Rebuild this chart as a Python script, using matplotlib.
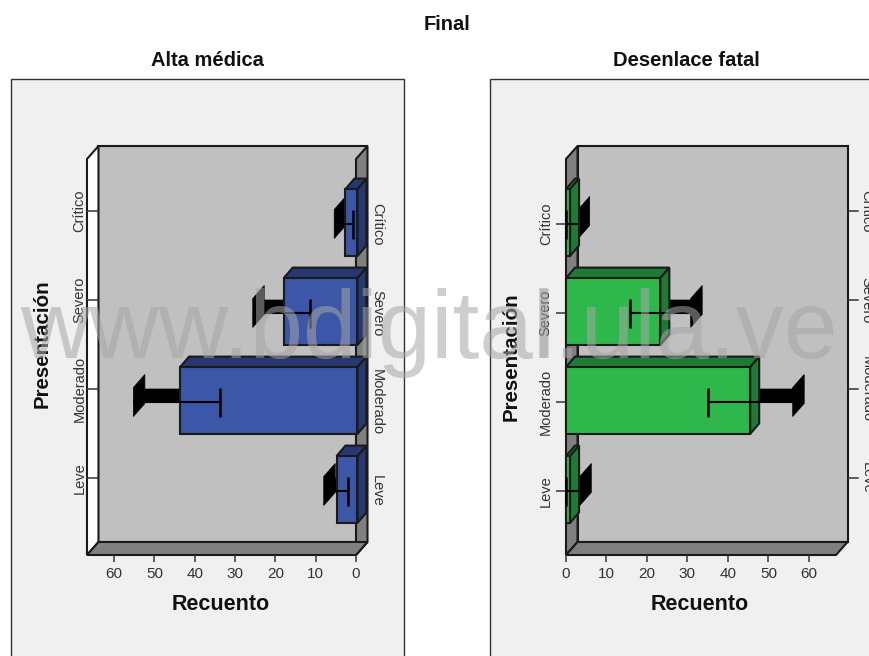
import matplotlib
matplotlib.use("Agg")
import matplotlib.pyplot as plt
from matplotlib.patches import Polygon, Rectangle

plt.rcParams['font.family'] = ['Liberation Sans', 'DejaVu Sans']

W, H = 869, 656
categories = ["Leve", "Moderado", "Severo", "Crítico"]
x_ticks = [0, 10, 20, 30, 40, 50, 60]

alta_values = [5.2, 44, 18.3, 3]
alta_err_low = [2, 33.7, 11.4, 0.8]
alta_err_high = [8, 55.2, 25.6, 5.4]

fatal_values = [1, 45.5, 23.3, 1]
fatal_err_low = [0, 35, 15.9, 0]
fatal_err_high = [3.4, 56, 30.8, 3]

PX_X = 4.04   # px per count
PX_Y = 89.0   # px per category
DX, DY = 11.5 / PX_X, 13 / PX_Y
BDX, BDY = 9.0 / PX_X, 10.5 / PX_Y
INX, INY = 1.5 / PX_X, 1.5 / PX_Y
BAR_H = 33.4 / PX_Y
CAP = 14.5 / PX_Y
XMAX = 66.7
YLO, YHI = -64 / PX_Y, 3 + 65 / PX_Y

EDGE = '#1a1a1a'
TXT = '#333333'
WALL = '#808080'
BACK = '#c0c0c0'

fig = plt.figure(figsize=(W / 100, H / 100), dpi=100, facecolor='white')


def px_axes(l, t, r, b, z):
    ax = fig.add_axes([l / W, 1 - b / H, (r - l) / W, (b - t) / H], zorder=z)
    return ax


bg = px_axes(0, 0, W, H, 0)
bg.set_xlim(0, W)
bg.set_ylim(H, 0)
bg.axis('off')
bg.add_patch(Rectangle((11, 79), 393, 600, fc='#f0f0f0', ec='#333333', lw=1))
bg.add_patch(Rectangle((490, 79), 400, 600, fc='#f0f0f0', ec='#333333', lw=1))
bg.text(447, 24, "Final", ha='center', va='center', fontsize=14.5, fontweight='bold', color='#111111')
bg.text(207, 61, "Alta médica", ha='center', va='center', fontsize=14.5, fontweight='bold', color='#111111')
bg.text(686, 61, "Desenlace fatal", ha='center', va='center', fontsize=14.5, fontweight='bold', color='#111111')
bg.text(221, 605, "Recuento", ha='center', va='center', fontsize=15.5, fontweight='bold', color='#111111')
bg.text(700, 605, "Recuento", ha='center', va='center', fontsize=15.5, fontweight='bold', color='#111111')
bg.text(42, 344, "Presentación", ha='center', va='center', rotation=90, fontsize=14.8, fontweight='bold', color='#111111')
bg.text(511, 357, "Presentación", ha='center', va='center', rotation=90, fontsize=14.8, fontweight='bold', color='#111111')
bg.add_patch(Rectangle((540, 289), 9, 69, fc='#d2d2d2', ec='none'))


def panel(box, reverse, values, low, high, face, dark):
    ax = px_axes(*box, 1)
    ax.set_xlim(XMAX, 0) if reverse else ax.set_xlim(0, XMAX)
    ax.set_ylim(YLO, YHI)
    ax.patch.set_visible(False)
    for s in ax.spines.values():
        s.set_visible(False)
    dx = -DX if reverse else DX   # depth in data units along x
    bdx = -BDX if reverse else BDX
    inx = -INX if reverse else 0

    def poly(pts, fc, ec=EDGE, lw=1.5, z=1):
        ax.add_patch(Polygon(pts, closed=True, fc=fc, ec=ec, lw=lw, zorder=z,
                             clip_on=False, joinstyle='miter'))

    # back wall
    poly([(dx, YLO + DY), (XMAX + dx, YLO + DY), (XMAX + dx, YHI + DY), (dx, YHI + DY)], BACK, z=1)
    # value-side wall at zero
    poly([(0, YLO), (dx, YLO + DY), (dx, YHI + DY), (0, YHI)], WALL, z=1.1)
    # floor
    poly([(0, YLO), (XMAX, YLO), (XMAX + dx, YLO + DY), (dx, YLO + DY)], WALL, z=1.2)
    if reverse:
        poly([(XMAX, YLO), (XMAX + dx, YLO + DY), (XMAX + dx, YHI + DY), (XMAX, YHI)], 'white', z=1.1)

    for i, (v, lo, hi) in enumerate(zip(values, low, high)):
        # error whisker depth (behind the bars)
        poly([(lo, i), (hi, i), (hi + dx, i + DY), (lo + dx, i + DY)], 'black', ec='black', lw=0.5, z=2)
        poly([(hi, i - CAP), (hi, i + CAP), (hi + dx, i + CAP + DY), (hi + dx, i - CAP + DY)],
             'black', ec='black', lw=0.5, z=2)
        # bar
        x0, x1 = inx, v + inx
        y0, y1 = i - BAR_H + INY, i + BAR_H + INY
        poly([(x0, y1), (x1, y1), (x1 + bdx, y1 + BDY), (x0 + bdx, y1 + BDY)], dark, z=3)
        poly([(x1, y0), (x1, y1), (x1 + bdx, y1 + BDY), (x1 + bdx, y0 + BDY)] if not reverse else
             [(x0, y0), (x0, y1), (x0 + bdx, y1 + BDY), (x0 + bdx, y0 + BDY)], dark, z=3)
        poly([(x0, y0), (x1, y0), (x1, y1), (x0, y1)], face, z=3.1)
        # front whisker
        ax.plot([lo, hi], [i, i], color='black', lw=1.5, zorder=4, clip_on=False, solid_capstyle='butt')
        ax.plot([lo, lo], [i - CAP, i + CAP], color='black', lw=1.8, zorder=4, clip_on=False, solid_capstyle='butt')

    ax.set_xticks(x_ticks)
    ax.tick_params(axis='x', length=5, width=1.1, color='#333333', labelsize=11, labelcolor=TXT, pad=3.5)

    # front-level category axis, and back-level category axis on the other side
    tick_len = 10 / PX_X
    if reverse:
        ax.yaxis.tick_right()
        ax.set_yticks(range(len(categories)))
        ax.set_yticklabels(categories, rotation=270, va='center', ha='left')
        ax.tick_params(axis='y', length=0, labelsize=10.5, labelcolor=TXT, pad=10)
        for i, c in enumerate(categories):
            ax.plot([XMAX, XMAX + dx], [i + DY] * 2, color='#333333', lw=1.1, zorder=1.3, clip_on=False)
            ax.annotate(c, (XMAX, i + DY), xytext=(-0.5, 0), textcoords='offset points', ha='right', va='center',
                        rotation=90, fontsize=10.5, color=TXT, annotation_clip=False)
    else:
        ax.set_yticks(range(len(categories)))
        ax.set_yticklabels(categories, rotation=90, va='center', ha='right')
        ax.tick_params(axis='y', length=7, width=1.1, color='#333333', labelsize=10.5, labelcolor=TXT, pad=2.5)
        for i, c in enumerate(categories):
            ax.plot([XMAX + dx, XMAX + dx + tick_len], [i + DY] * 2, color='#333333', lw=1.1, zorder=1.3, clip_on=False)
            ax.annotate(c, (XMAX + dx + tick_len, i + DY), xytext=(1.5, 0), textcoords='offset points',
                        ha='left', va='center', rotation=270, fontsize=10.5, color=TXT, annotation_clip=False)
    return ax


panel((87, 159, 356, 555), True, alta_values, alta_err_low, alta_err_high, '#3c56a8', '#26386f')
panel((566, 159, 836, 555), False, fatal_values, fatal_err_low, fatal_err_high, '#2eb84c', '#1f7a35')

over = px_axes(0, 0, W, H, 5)
over.set_xlim(0, W)
over.set_ylim(H, 0)
over.axis('off')
over.text(20, 358, "www.bdigital.ula.ve", ha='left', va='baseline', fontsize=69.2,
          color='#a6a6a6', alpha=0.55)

fig.savefig("out.png", dpi=100, facecolor=fig.get_facecolor())
